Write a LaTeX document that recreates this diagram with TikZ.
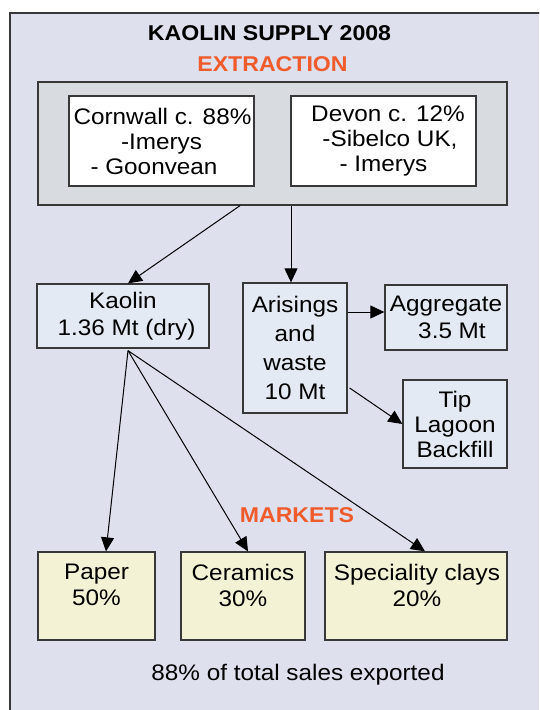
\documentclass[tikz,border=0pt]{standalone}
\usepackage{fontspec}
\setmainfont{Liberation Sans}[FakeStretch=1.08]
\usetikzlibrary{arrows.meta}
\definecolor{bgc}{HTML}{DFE0EE}
\definecolor{grayc}{HTML}{D8DBE0}
\definecolor{bluec}{HTML}{E4EAF3}
\definecolor{yelc}{HTML}{F3F2D4}
\definecolor{orc}{HTML}{EF5B2B}
\definecolor{linec}{HTML}{383838}
\tikzset{
  box/.style={draw=linec, line width=1.3pt, inner sep=0pt, align=center,
    font={\fontsize{22.5}{25}\selectfont}},
  whitebox/.style={box, fill=white},
  bluebox/.style={box, fill=bluec},
  yelbox/.style={box, fill=yelc},
  txt/.style={inner sep=0pt, align=center, font={\fontsize{22.5}{26}\selectfont}},
  head/.style={inner sep=0pt, font={\fontsize{21.4}{24}\selectfont\bfseries}},
  arr/.style={draw=black, line width=1pt, -{Triangle[length=14pt,width=13pt]}},
  ln/.style={draw=black, line width=1pt}
}
\begin{document}
\begin{tikzpicture}[x=1pt,y=-1pt]
\useasboundingbox (0,0) rectangle (539,710);
\clip (0,0) rectangle (539,710);
\draw[line width=1.3pt, draw=linec, fill=bgc] (10,13) rectangle (580,740);

\node[head] (title) at (269.5,33) {KAOLIN SUPPLY 2008};
\node[head, text=orc] (extr) at (272.5,64) {EXTRACTION};

\node[box, fill=grayc, minimum width=469pt, minimum height=123pt] (gray) at (272.5,143.5) {};
\node[whitebox, minimum width=185pt, minimum height=90pt] (corn) at (161.5,141)
  {\hspace*{2pt}Cornwall c. 88\%\\-Imerys\hspace*{19pt}\\- Goonvean\hspace*{15pt}};
\node[whitebox, minimum width=185pt, minimum height=90pt] (devon) at (383.5,141)
  {\hspace*{9pt}Devon c. 12\%\\\hspace*{13pt}-Sibelco UK,\\- Imerys};

\node[bluebox, minimum width=172pt, minimum height=64pt, font={\fontsize{22.5}{27}\selectfont}] (kaolin) at (123,316)
  {Kaolin\\\hspace*{7pt}1.36 Mt (dry)};
\node[bluebox, minimum width=104pt, minimum height=130pt, font={\fontsize{22.5}{29}\selectfont}] (aris) at (295,348)
  {Arisings\\and\\waste\\10 Mt};
\node[bluebox, minimum width=122pt, minimum height=65pt, font={\fontsize{22.5}{27}\selectfont}] (aggr) at (446,317.5)
  {Aggregate\\\hspace*{12pt}3.5 Mt};
\node[bluebox, minimum width=104pt, minimum height=88pt] (tip) at (455,424)
  {Tip\\Lagoon\\Backfill};

\node[yelbox, minimum width=117pt, minimum height=88pt] (paper) at (96.5,596) {};
\node[yelbox, minimum width=124pt, minimum height=88pt] (cera) at (243,596) {};
\node[yelbox, minimum width=182pt, minimum height=88pt] (spec) at (416,596) {};
\node[txt] (papert) at (96.5,585) {Paper\\50\%};
\node[txt] (cerat) at (243,585) {Ceramics\\30\%};
\node[txt] (spect) at (417,585) {Speciality clays\\20\%};

\node[head, text=orc] (markets) at (297,515) {MARKETS};
\node[txt] (foot) at (298,675) {88\% of total sales exported};

\draw[arr] ([xshift=-32.5pt]gray.south) -- ([xshift=5pt]kaolin.north);
\draw[arr] ([xshift=-4pt]aris.north |- gray.south) -- ([xshift=-4pt]aris.north);
\draw[arr] ([yshift=36pt]aris.east) -- ([yshift=36pt]aris.east -| aggr.west);
\draw[arr] ([xshift=2pt,yshift=-40pt]aris.east) -- (tip.west);
\draw[arr] ([xshift=5pt,yshift=-2pt]kaolin.south) -- ([xshift=9.5pt]paper.north);
\draw[arr] ([xshift=5pt,yshift=-2pt]kaolin.south) -- ([xshift=5pt]cera.north);
\draw[arr] ([xshift=5pt,yshift=-2pt]kaolin.south) -- ([xshift=9pt]spec.north);
\end{tikzpicture}
\end{document}
